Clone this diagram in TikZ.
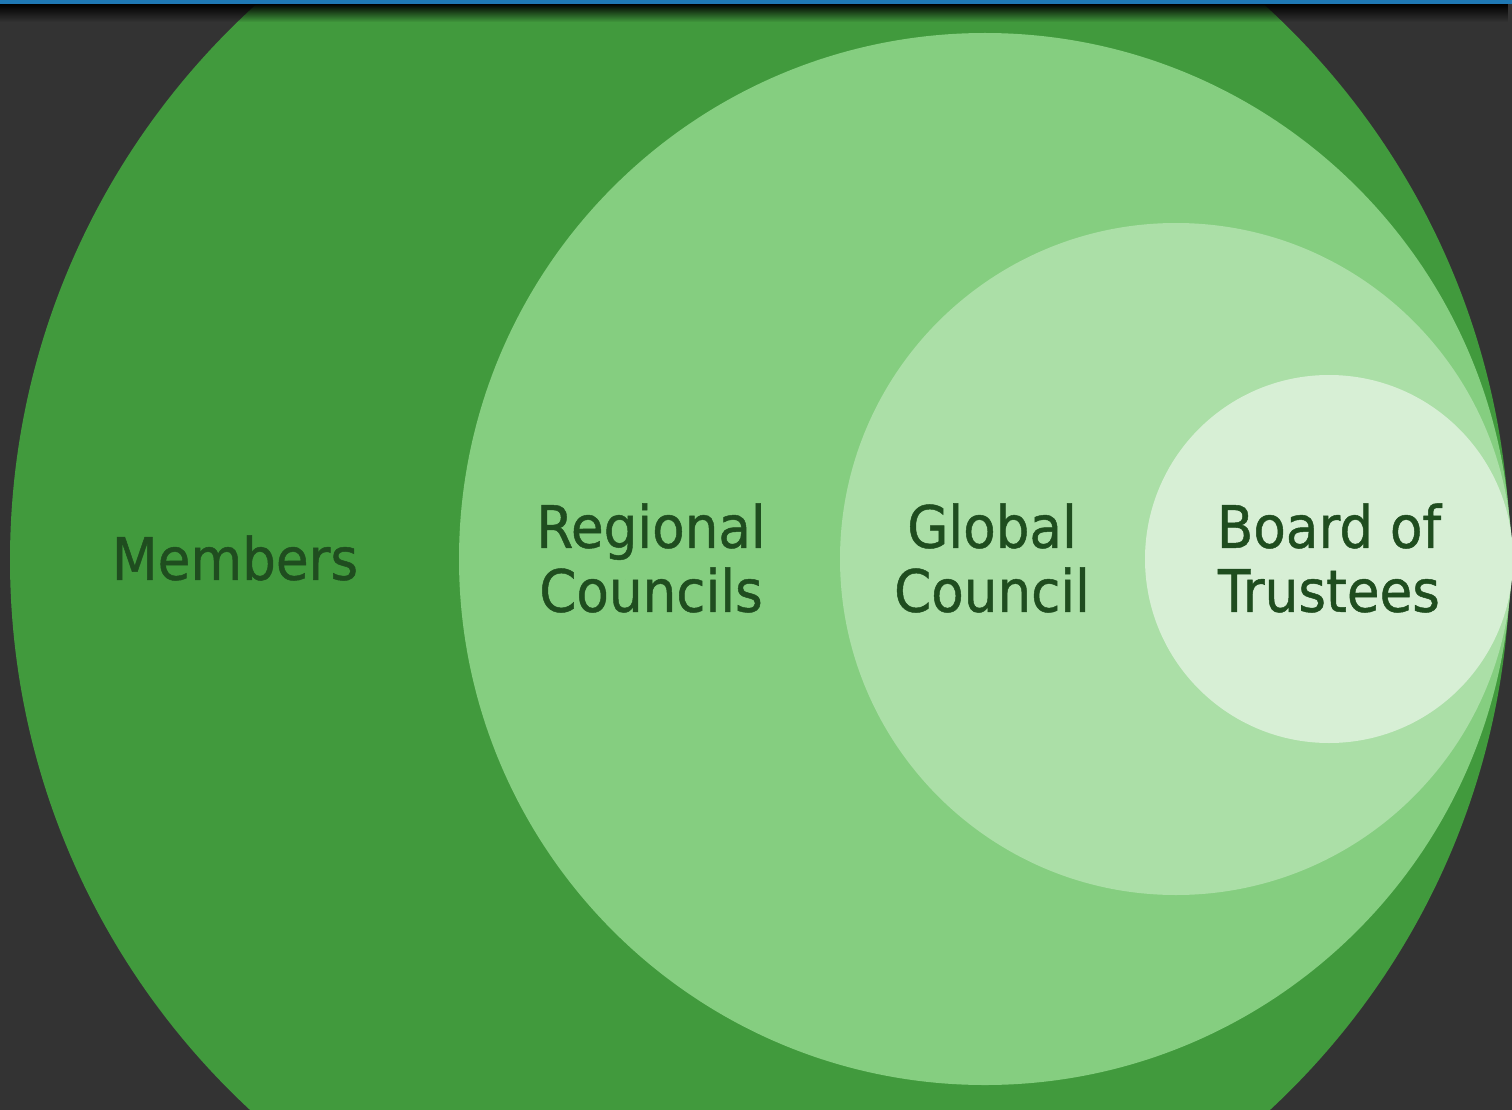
\documentclass[tikz,border=0pt]{standalone}
\usepackage{fontspec}
\setmainfont[FakeStretch=0.91,FakeBold=0.8]{DejaVu Sans}
\usetikzlibrary{fadings}
\definecolor{bg}{HTML}{333333}
\definecolor{topbar}{HTML}{1F78B4}
\definecolor{gA}{HTML}{419A3D}
\definecolor{gB}{HTML}{85CE80}
\definecolor{gC}{HTML}{ABDFA7}
\definecolor{gD}{HTML}{D7EFD5}
\definecolor{txt}{HTML}{1F4D1F}
\tikzset{
  lbl/.style={text=txt, align=center, font=\fontsize{58.4}{64}\selectfont, inner sep=0pt}
}
\begin{document}
\begin{tikzpicture}[x=1pt,y=-1pt]
\useasboundingbox (0,0) rectangle (1512,1110);
\fill[bg] (0,0) rectangle (1512,1110);
\begin{scope}
\clip (0,0) rectangle (1512,1110);
\fill[gA] (760,560) circle[radius=750];
\fill[gB] (985,559) circle[radius=526];
\fill[gC] (1176,559) circle[radius=336];
\fill[gD] (1329,559) circle[radius=184];
\fill[black, path fading=south] (0,4) rectangle (1512,22);
\end{scope}
\fill[topbar] (0,0) rectangle (1512,4);
\node[lbl] (members) at (235,558) {Members};
\node[lbl] (regional) at (651,558) {Regional\\Councils};
\node[lbl] (global) at (992,558) {Global\\Council};
\node[lbl] (board) at (1329,558) {Board of\\Trustees};
\end{tikzpicture}
\end{document}
